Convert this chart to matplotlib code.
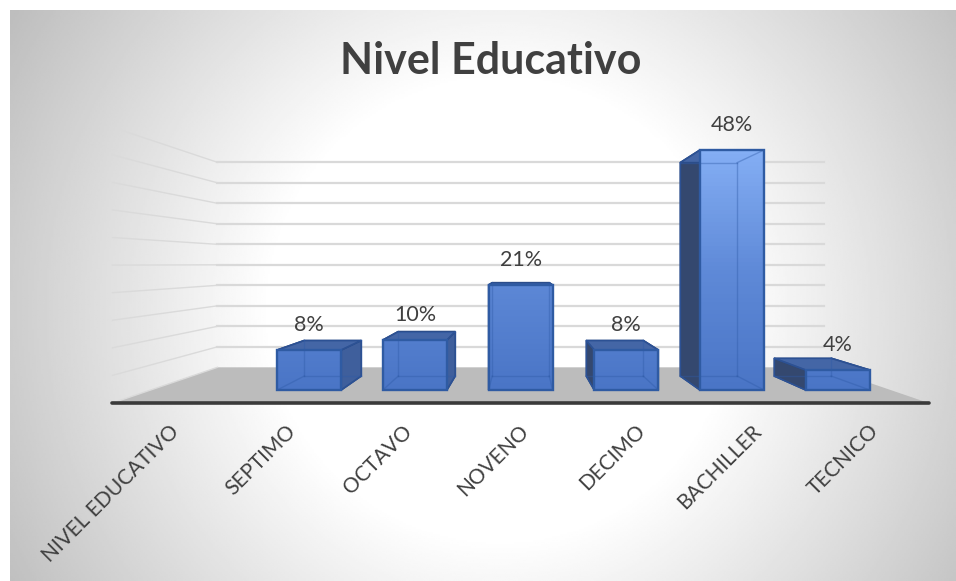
import numpy as np
import matplotlib.pyplot as plt
from matplotlib.colors import LinearSegmentedColormap
from matplotlib.patches import Polygon
from matplotlib.transforms import ScaledTranslation

plt.rcParams["font.family"] = ["Lato", "DejaVu Sans"]

categorias = ["NIVEL EDUCATIVO", "SEPTIMO", "OCTAVO", "NOVENO", "DECIMO", "BACHILLER", "TECNICO"]
valores = [None, 8, 10, 21, 8, 48, 4]
titulo = "Nivel Educativo"
grid_vals = [0, 5, 10, 15, 20, 25, 30, 35, 40, 45, 50]

W, H = 956, 581

# Escala del plano frontal de las barras (pixeles por categoria / por %)
px_x0, px_cat = 203.5, 105.7
px_y0, px_pct = 390, 5.0

# Perspectiva: punto de fuga y profundidades
cv, vv = 3.013, 25.2
s_barra = 0.889
s_pared = 0.82
s_suelo = 1.103
ancho = 0.303


def proy(c, v, s=1.0):
    return cv + (c - cv) * s, vv + (v - vv) * s


fig = plt.figure(figsize=(W / 100, H / 100), dpi=100, facecolor="white")
ax = fig.add_axes([0, 0, 1, 1])

# -----------------------------
# Fondo con degradado radial
# -----------------------------
yy, xx = np.mgrid[10:H:300j, 10:W:500j]
r = np.hypot(xx - 500, yy - 310)
t = np.clip((r - 230) / 340, 0, 1)
fondo = 1 - t * (1 - 0.745)
cmap_gris = LinearSegmentedColormap.from_list("g", ["black", "white"])
ax.imshow(fondo, cmap=cmap_gris, vmin=0, vmax=1, aspect="auto", transform=ax.transAxes,
          extent=(10 / W, 1, 0, 1 - 10 / H), zorder=0)

xlim = ((0 - px_x0) / px_cat, (W - px_x0) / px_cat)
ylim = ((px_y0 - H) / px_pct, px_y0 / px_pct)

# -----------------------------
# Suelo y rejilla
# -----------------------------
izq = -0.5
der = len(categorias) - 0.5
suelo = [proy(izq, 0, s_pared), proy(der, 0, s_pared), proy(der, 0, s_suelo), proy(izq, 0, s_suelo)]
ax.add_patch(Polygon(suelo, closed=True, facecolor="#bcbcbc", edgecolor="none", zorder=1))

for g in grid_vals[1:]:
    x0, y0 = proy(izq, g, s_pared)
    x1, y1 = proy(der, g, s_pared)
    ax.plot([x0, x1], [y0, y1], color="#d9d9d9", lw=1.6, zorder=1)
for g in grid_vals:
    x0, y0 = proy(izq, g, s_pared)
    x1, y1 = proy(izq, g, s_suelo)
    ax.plot([x0, x1], [y0, y1], color="#dadada", lw=1.0, zorder=1)

# -----------------------------
# Barras 3D
# -----------------------------
cmap_barra = LinearSegmentedColormap.from_list("b", ["#4a75c6", "#5f8ad8", "#84aef4"])
borde = "#2f5ba3"
borde_lado = "#2b4c88"

for i, v in enumerate(valores):
    if v is None:
        continue
    a, b = i - ancho, i + ancho
    fd = [(a, 0), (b, 0), (b, v), (a, v)]
    tr = [proy(p, q, s_barra) for p, q in fd]

    z = 3
    ax.add_patch(Polygon([fd[0], fd[1], tr[1], tr[0]], facecolor="#3f66ae", edgecolor=borde_lado, lw=1.0, zorder=z))
    ax.add_patch(Polygon([tr[0], fd[0], fd[3], tr[3]], facecolor="#34486f", edgecolor=borde_lado, lw=1.2, zorder=z))
    ax.add_patch(Polygon([fd[1], tr[1], tr[2], fd[2]], facecolor="#3f5f9c", edgecolor=borde_lado, lw=1.2, zorder=z))
    ax.add_patch(Polygon([fd[3], fd[2], tr[2], tr[3]], facecolor="#4466a6", edgecolor=borde_lado, lw=1.2, zorder=z))

    # Cara frontal con degradado segun altura
    grad = np.linspace(0, v / 48, 60).reshape(-1, 1)
    im = ax.imshow(grad, cmap=cmap_barra, vmin=0, vmax=1, aspect="auto", origin="lower",
                   extent=(a, b, 0, v), zorder=z + 1)
    clip = Polygon(fd, transform=ax.transData)
    im.set_clip_path(clip)

    # Aristas interiores vistas a traves del frente
    for p, q in [(tr[0], tr[1]), (tr[1], tr[2]), (tr[2], tr[3]), (tr[3], tr[0]),
                 (fd[0], tr[0]), (fd[1], tr[1]), (fd[2], tr[2]), (fd[3], tr[3])]:
        ax.plot([p[0], q[0]], [p[1], q[1]], color="#2f5ba8", lw=1.0, alpha=0.4, zorder=z + 2)
    ax.add_patch(Polygon(fd, facecolor="none", edgecolor=borde, lw=1.7, zorder=z + 3))

    ax.annotate(f"{v}%", xy=(i, v), xytext=(0, 18), textcoords="offset points",
                ha="center", va="center", fontsize=15.5, color="#404040", zorder=6)

# -----------------------------
# Eje de categorias
# -----------------------------
for lado in ["top", "left", "right"]:
    ax.spines[lado].set_visible(False)
ax.patch.set_visible(False)

suelo_v = proy(0, 0, s_suelo)[1]
ax.spines["bottom"].set_position(("data", suelo_v))
ax.spines["bottom"].set_bounds(proy(izq, 0, s_suelo)[0], proy(der, 0, s_suelo)[0])
ax.spines["bottom"].set_color("#3a3a3a")
ax.spines["bottom"].set_linewidth(2.6)
ax.spines["bottom"].set_capstyle("round")
ax.spines["bottom"].set_zorder(7)

ax.set_yticks([])
ax.set_xticks([proy(i, 0, s_suelo)[0] for i in range(len(categorias))])
ax.set_xticklabels(categorias)
ax.tick_params(axis="x", length=0, pad=13, labelsize=15, labelcolor="#404040")
desplaza = ScaledTranslation(-2 / 100, 0, fig.dpi_scale_trans)
for lab in ax.get_xticklabels():
    lab.set(rotation=45, ha="right", va="top", rotation_mode="anchor")
    lab.set_transform(lab.get_transform() + desplaza)

ax.set_xlim(xlim)
ax.set_ylim(ylim)

ax.text(491 / W, 1 - 61 / H, titulo, transform=ax.transAxes, ha="center", va="center",
        fontsize=31, fontweight="bold", color="#404040")

fig.savefig("out.png", dpi=100)
